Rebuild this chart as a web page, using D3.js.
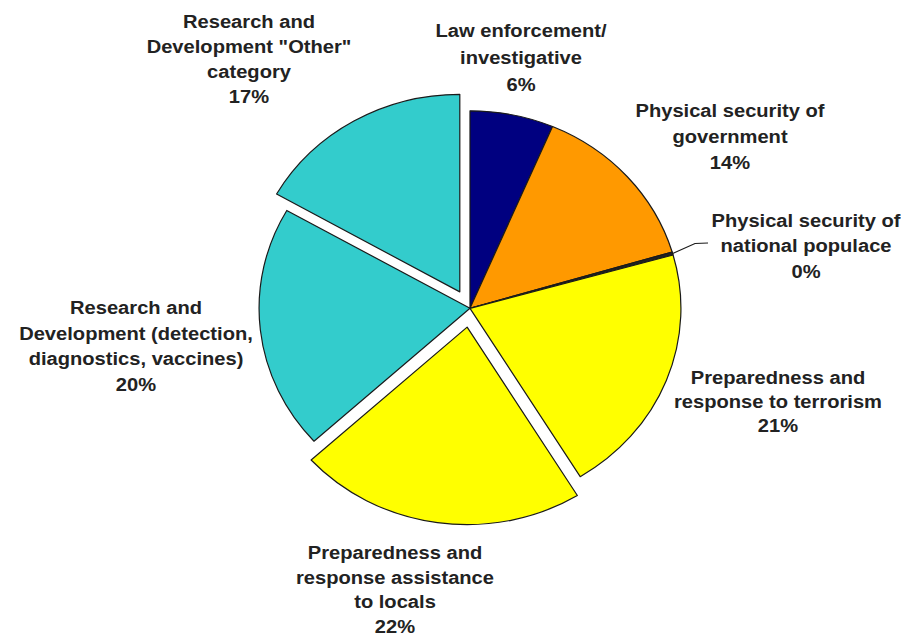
<!DOCTYPE html>
<html><head><meta charset="utf-8">
<script src="https://cdn.jsdelivr.net/npm/d3@7"></script>
<style>
body{margin:0;background:#fff}
text{font-family:"Liberation Sans",Arial,sans-serif;font-weight:bold;font-size:19px;fill:#222}
</style>
</head><body><svg id="c" width="901" height="636"></svg>
<script>
const categories = [
  "Law enforcement/\ninvestigative",
  "Physical security of\ngovernment",
  "Physical security of\nnational populace",
  "Preparedness and\nresponse to terrorism",
  "Preparedness and\nresponse assistance\nto locals",
  "Research and\nDevelopment (detection,\ndiagnostics, vaccines)",
  "Research and\nDevelopment \"Other\"\ncategory"
];
const values = [6.4, 14.0, 0.25, 20.6, 22.0, 20.0, 16.75];
const colors = ["#000080", "#ff9900", "#222222", "#ffff00", "#ffff00", "#33cccc", "#33cccc"];
const explode = [0, 0, 0, 0, 19, 0, 19];
// label anchor: [centerX, firstBaseline, lineHeight]
const labelPos = [[521, 37, 27], [730, 116.5, 26.5], [806, 226.7, 25.8], [778, 384, 24],
                  [395, 559, 24.7], [136, 314.3, 25.6], [249, 27.5, 25.2]];

const cx = 470, cy = 308.3, R = 197.5, sx = 1.068;
const svg = d3.select("#c");

const pie = d3.pie().sort(null).value(d => d).startAngle(0).endAngle(2 * Math.PI);
const arcs = pie(values);
const arc = d3.arc().innerRadius(0).outerRadius(R);

const g = svg.append("g").attr("transform", `translate(${cx},${cy}) scale(${sx},1)`);
g.selectAll("path").data(arcs).join("path")
  .attr("d", arc)
  .attr("transform", (d, i) => {
    const m = (d.startAngle + d.endAngle) / 2;
    return `translate(${Math.sin(m) * explode[i]},${-Math.cos(m) * explode[i]})`;
  })
  .attr("fill", (d, i) => colors[i])
  .attr("stroke", "#1a1a1a")
  .attr("stroke-width", 1.2)
  .attr("vector-effect", "non-scaling-stroke")
  .attr("stroke-linejoin", "round");

// leader line for the tiny slice
const tiny = arcs[2];
const tm = (tiny.startAngle + tiny.endAngle) / 2;
const p0 = [cx + Math.sin(tm) * R * sx, cy - Math.cos(tm) * R];
svg.append("path")
  .attr("d", d3.line()([p0, [695, 243.5], [708, 243]]))
  .attr("fill", "none").attr("stroke", "#1a1a1a").attr("stroke-width", 1.2);

// labels
categories.forEach((c, i) => {
  const [x, y, lh] = labelPos[i];
  const lines = c.split("\n").concat([Math.round(values[i]) + "%"]);
  const t = svg.append("text")
    .attr("text-anchor", "middle")
    .attr("transform", `translate(${x},${y}) scale(1.06,1)`);
  lines.forEach((l, k) => {
    t.append("tspan").attr("x", 0).attr("y", k * lh).text(l);
  });
});
</script>
</body></html>
